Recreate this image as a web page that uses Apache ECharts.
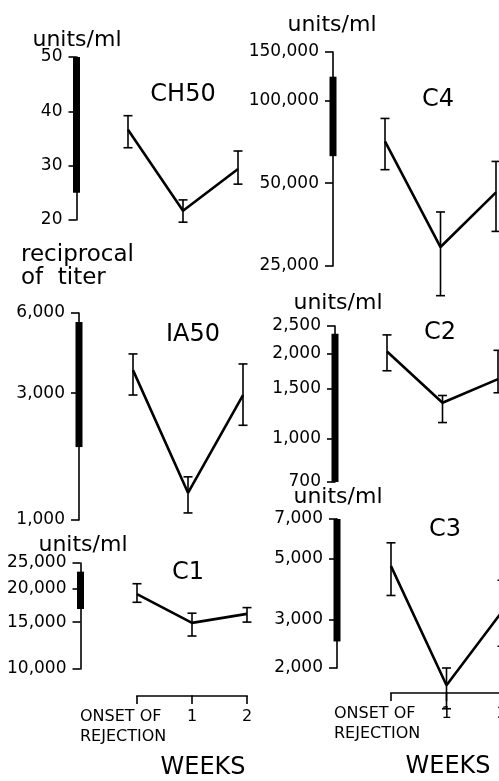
<!DOCTYPE html>
<html><head><meta charset="utf-8">
<script src="https://cdn.jsdelivr.net/npm/echarts@6/dist/echarts.min.js"></script>
<style>html,body{margin:0;padding:0;background:#fff}#c{width:499px;height:781px}</style>
</head><body><div id="c"></div>
<script>
// ---- data ----
const weekValues = [0, 1, 2];
const weekLabels = ['ONSET OF\nREJECTION', '1', '2'];

const ch50Mean = [36.6, 21.7, 29.4];
const ch50Low = [33.3, 19.6, 26.6];
const ch50High = [39.2, 23.7, 32.7];
const ch50Normal = [25, 50];
const ch50Ticks = [20, 30, 40, 50];

const ia50Mean = [3660, 1265, 2950];
const ia50Low = [2950, 1063, 2270];
const ia50High = [4210, 1453, 3860];
const ia50Normal = [1880, 5550];
const ia50Ticks = [1000, 3000, 6000];

const c1Mean = [19100, 14900, 16100];
const c1Low = [17800, 13300, 15000];
const c1High = [20900, 16200, 17000];
const c1Normal = [16800, 23200];
const c1Ticks = [10000, 15000, 20000, 25000];

const c4Mean = [71000, 29300, 46300];
const c4Low = [56000, 19500, 33400];
const c4High = [86000, 39300, 60000];
const c4Normal = [62700, 122000];
const c4Ticks = [25000, 50000, 100000, 150000];

const c2Mean = [2030, 1337, 1620];
const c2Low = [1735, 1137, 1450];
const c2High = [2325, 1418, 2050];
const c2Normal = [700, 2345];
const c2Ticks = [700, 1000, 1500, 2000, 2500];

const c3Mean = [4710, 1730, 3210];
const c3Low = [3680, 1420, 2400];
const c3High = [5730, 2000, 4180];
const c3Normal = [2500, 7000];
const c3Ticks = [2000, 3000, 5000, 7000];

// ---- layout ----
const FONT = '"DejaVu Sans", sans-serif';
const panels = [
  {title:'CH50', scale:'value', mean:ch50Mean, low:ch50Low, high:ch50High, normal:ch50Normal, ticks:ch50Ticks,
   x0:128, x2:238, top:57, height:163, axisX:76.5, drop:null, tx:183, ty:95},
  {title:'IA50', scale:'log', mean:ia50Mean, low:ia50Low, high:ia50High, normal:ia50Normal, ticks:ia50Ticks,
   x0:133, x2:243, top:313, height:207, axisX:79, drop:null, tx:193, ty:335},
  {title:'C1', scale:'log', mean:c1Mean, low:c1Low, high:c1High, normal:c1Normal, ticks:c1Ticks,
   x0:137, x2:247, top:563, height:106, axisX:80.5, drop:27, tx:188, ty:573},
  {title:'C4', scale:'log', mean:c4Mean, low:c4Low, high:c4High, normal:c4Normal, ticks:c4Ticks,
   x0:385, x2:496, top:52, height:214, axisX:333, drop:null, tx:438, ty:100},
  {title:'C2', scale:'log', mean:c2Mean, low:c2Low, high:c2High, normal:c2Normal, ticks:c2Ticks,
   x0:387, x2:498, top:326, height:156, axisX:335, drop:null, tx:440, ty:333},
  {title:'C3', scale:'log', mean:c3Mean, low:c3Low, high:c3High, normal:c3Normal, ticks:c3Ticks,
   x0:391, x2:502, top:519, height:149, axisX:337, drop:25, tx:445, ty:530}
];

const grids = [], xAxes = [], yAxes = [], series = [], graphics = [];
const black = '#000';

panels.forEach((p) => {
  const gi = grids.length;
  const unit = (p.x2 - p.x0) / 2;
  const xMin = -(p.x0 - p.axisX) / unit;
  const yMinVal = p.ticks[0];
  grids.push({left:p.axisX, top:p.top, width:p.x2 - p.axisX, height:p.height, outerBoundsMode:'none', containLabel:false});
  xAxes.push({gridIndex:gi, type:'value', min:xMin, max:2, show:false});
  yAxes.push({
    gridIndex:gi, type:p.scale, min:yMinVal, max:p.ticks[p.ticks.length-1], position:'left',
    axisLine:{show:true, onZero:false, lineStyle:{color:black, width:1.6}},
    axisTick:{show:true, length:8, lineStyle:{color:black, width:1.6}, customValues:p.ticks},
    splitLine:{show:false},
    axisLabel:{show:true, customValues:p.ticks, margin:14, color:black, fontFamily:FONT, fontSize:17,
      formatter: v => Math.round(v).toLocaleString('en-US')}
  });
  series.push({
    type:'line', xAxisIndex:gi, yAxisIndex:gi, symbol:'none', clip:false, animation:false,
    lineStyle:{color:black, width:2.6}, z:3,
    data: weekValues.map((w, k) => [w, p.mean[k]])
  });
  series.push({
    type:'custom', xAxisIndex:gi, yAxisIndex:gi, clip:false, animation:false, z:4,
    data: weekValues.map((w, k) => [w, p.low[k], p.high[k]]),
    encode:{x:0, y:[1,2]},
    renderItem: (params, api) => {
      const x = api.value(0);
      const a = api.coord([x, api.value(1)]);
      const b = api.coord([x, api.value(2)]);
      const hw = 4.5, st = {stroke:black, lineWidth:1.6};
      return {type:'group', children:[
        {type:'line', shape:{x1:a[0], y1:a[1], x2:b[0], y2:b[1]}, style:st},
        {type:'line', shape:{x1:a[0]-hw, y1:a[1], x2:a[0]+hw, y2:a[1]}, style:st},
        {type:'line', shape:{x1:b[0]-hw, y1:b[1], x2:b[0]+hw, y2:b[1]}, style:st}
      ]};
    }
  });
  series.push({
    type:'custom', xAxisIndex:gi, yAxisIndex:gi, clip:false, animation:false, z:5,
    data: [[xMin, p.normal[0], p.normal[1]]],
    encode:{x:0, y:[1,2]},
    renderItem: (params, api) => {
      const a = api.coord([api.value(0), api.value(1)]);
      const b = api.coord([api.value(0), api.value(2)]);
      return {type:'rect', shape:{x:a[0]-3.5, y:b[1], width:7, height:a[1]-b[1]}, style:{fill:black}};
    }
  });
  graphics.push({type:'text', x:p.tx, y:p.ty, style:{text:p.title, font:'24px ' + FONT, fill:black, align:'center', verticalAlign:'middle'}});

  if (p.drop !== null) {
    // week axis drawn below the panel, positioned by the panel's own x scale
    series.push({
      type:'custom', xAxisIndex:gi, yAxisIndex:gi, clip:false, animation:false, z:2, silent:true,
      data: weekValues.map((w, k) => [w, yMinVal, k]),
      encode:{x:0, y:1},
      renderItem: (params, api) => {
        const w = api.value(0), k = api.value(2);
        const c = api.coord([w, yMinVal]);
        const ly = c[1] + p.drop;
        const st = {stroke:black, lineWidth:1.6};
        const kids = [{type:'line', shape:{x1:c[0], y1:ly, x2:c[0], y2:ly + 8}, style:st}];
        if (k < weekValues.length - 1) {
          const n = api.coord([weekValues[k + 1], yMinVal]);
          kids.push({type:'line', shape:{x1:c[0] - 0.8, y1:ly, x2:n[0] + 0.8, y2:ly}, style:st});
        }
        kids.push({type:'text', x: k === 0 ? c[0] - 57 : c[0], y: ly + 11,
          style:{text:weekLabels[k], font:'16px ' + FONT, lineHeight:20, fill:black,
                 align: k === 0 ? 'left' : 'center', verticalAlign:'top'}});
        return {type:'group', children:kids};
      }
    });
  }
});

const unitTexts = [
  ['units/ml', 77, 40], ['units/ml', 332, 25], ['units/ml', 338, 303],
  ['units/ml', 83, 545], ['units/ml', 338, 497]
];
unitTexts.forEach(t => graphics.push({type:'text', x:t[1], y:t[2],
  style:{text:t[0], font:'22px ' + FONT, fill:black, align:'center', verticalAlign:'middle'}}));
graphics.push({type:'text', x:21, y:255, style:{text:'reciprocal', font:'23px ' + FONT, fill:black, align:'left', verticalAlign:'middle'}});
graphics.push({type:'text', x:21, y:278, style:{text:'of  titer', font:'23px ' + FONT, fill:black, align:'left', verticalAlign:'middle'}});
graphics.push({type:'text', x:203, y:768, style:{text:'WEEKS', font:'24px ' + FONT, fill:black, align:'center', verticalAlign:'middle'}});
graphics.push({type:'text', x:448, y:767, style:{text:'WEEKS', font:'24px ' + FONT, fill:black, align:'center', verticalAlign:'middle'}});

const chart = echarts.init(document.getElementById('c'), null, {renderer:'canvas'});
chart.setOption({
  backgroundColor:'#fff', animation:false,
  grid:grids, xAxis:xAxes, yAxis:yAxes, series:series, graphic:graphics
});
</script></body></html>
